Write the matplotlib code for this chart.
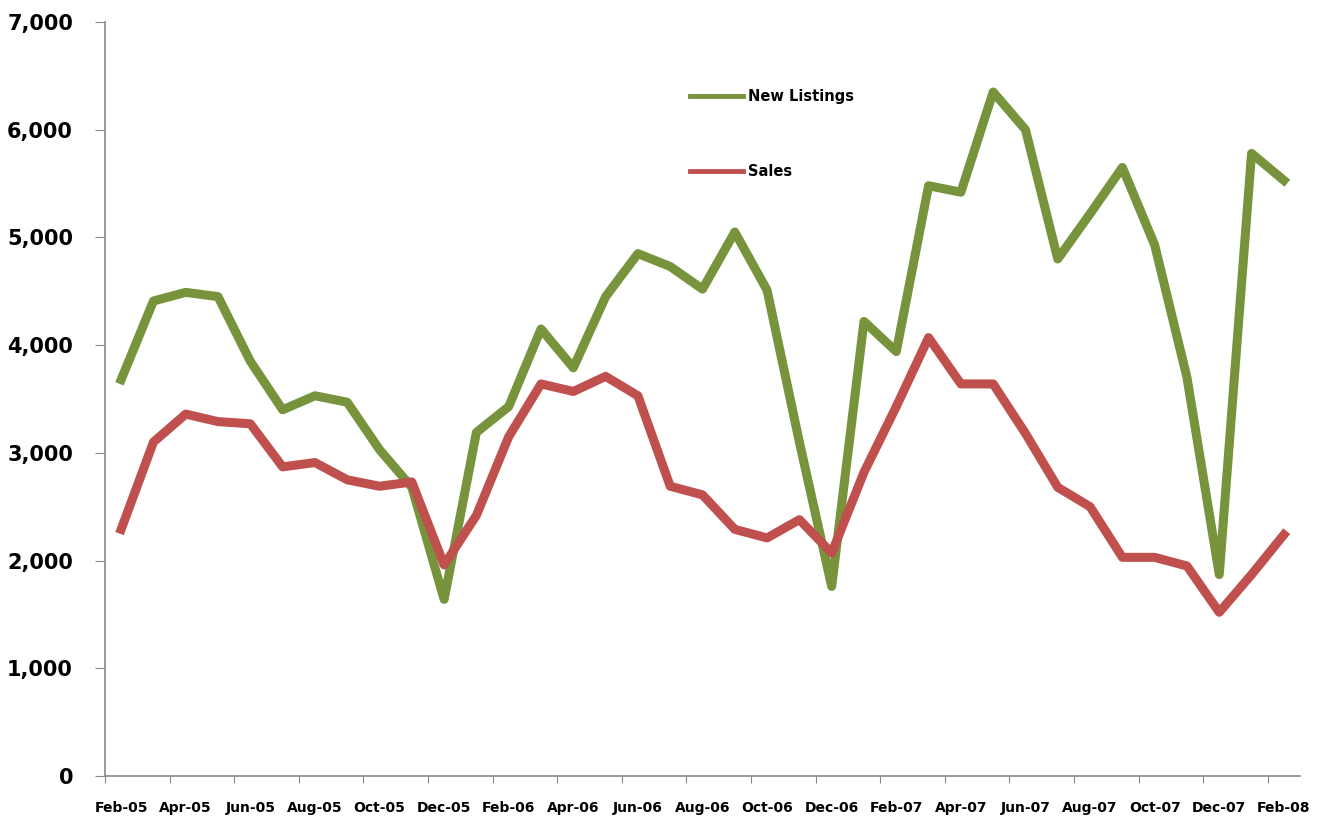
import matplotlib
matplotlib.use("Agg")
import matplotlib.pyplot as plt
from matplotlib.ticker import FuncFormatter, FixedLocator

months = [
    "Feb-05", "Mar-05", "Apr-05", "May-05", "Jun-05", "Jul-05", "Aug-05", "Sep-05",
    "Oct-05", "Nov-05", "Dec-05", "Jan-06", "Feb-06", "Mar-06", "Apr-06", "May-06",
    "Jun-06", "Jul-06", "Aug-06", "Sep-06", "Oct-06", "Nov-06", "Dec-06", "Jan-07",
    "Feb-07", "Mar-07", "Apr-07", "May-07", "Jun-07", "Jul-07", "Aug-07", "Sep-07",
    "Oct-07", "Nov-07", "Dec-07", "Jan-08", "Feb-08",
]

new_listings = [
    3680, 4410, 4490, 4450, 3850, 3400, 3530, 3470,
    3030, 2680, 1640, 3190, 3430, 4150, 3790, 4450,
    4850, 4730, 4520, 5050, 4510, 3100, 1760, 4220,
    3940, 5480, 5420, 6350, 6000, 4800, 5220, 5650,
    4930, 3700, 1870, 5780, 5530,
]

sales = [
    2290, 3100, 3360, 3290, 3270, 2870, 2910, 2750,
    2690, 2730, 1960, 2420, 3150, 3640, 3570, 3710,
    3530, 2690, 2610, 2290, 2210, 2380, 2070, 2820,
    3430, 4070, 3640, 3640, 3180, 2680, 2500, 2030,
    2030, 1950, 1520, 1870, 2240,
]

GREEN = "#77933C"
RED = "#C0504D"
FONT = ["DejaVu Sans"]

fig = plt.figure(figsize=(13.25, 8.23), dpi=100)
ax = fig.add_axes([105 / 1325, 1 - 776 / 823, 1195 / 1325, 754 / 823])

xs = list(range(len(months)))
ax.plot(xs, new_listings, color=GREEN, lw=6.5, label="New Listings", solid_joinstyle="round")
ax.plot(xs, sales, color=RED, lw=6.5, label="Sales", solid_joinstyle="round")

ax.set_xlim(-0.5, len(months) - 0.5)
ax.set_ylim(0, 7000)

# tick marks sit between categories, labels every second month
ax.xaxis.set_major_locator(FixedLocator([x - 0.5 for x in xs[::2]]))
ax.set_xticklabels([])
ax.xaxis.set_minor_locator(FixedLocator(xs[::2]))
ax.set_xticklabels(months[::2], minor=True, fontfamily=FONT, fontweight="bold", fontsize=10)
ax.tick_params(axis="x", which="minor", length=0, pad=18)
ax.tick_params(axis="x", which="major", length=5, color="#898989", direction="out")

ax.set_yticks(range(0, 7001, 1000))
ax.yaxis.set_major_formatter(FuncFormatter(lambda v, p: f"{int(v):,}"))
for lab in ax.get_yticklabels():
    lab.set_fontfamily(FONT)
    lab.set_fontweight("bold")
    lab.set_fontsize(15)
ax.tick_params(axis="y", length=7, color="#898989", direction="out", pad=16)

for side in ("top", "right"):
    ax.spines[side].set_visible(False)
for side in ("left", "bottom"):
    ax.spines[side].set_color("#898989")
    ax.spines[side].set_linewidth(1.2)

leg = fig.legend(
    loc="upper left", bbox_to_anchor=(683 / 1325, 1 - 82 / 823),
    frameon=False, handlelength=3.6, handletextpad=0.35, borderpad=0,
    labelspacing=4.1, prop={"family": FONT, "weight": "bold", "size": 10.5},
)
for line in leg.get_lines():
    line.set_linewidth(3.5)

fig.savefig("out.png", dpi=100)
